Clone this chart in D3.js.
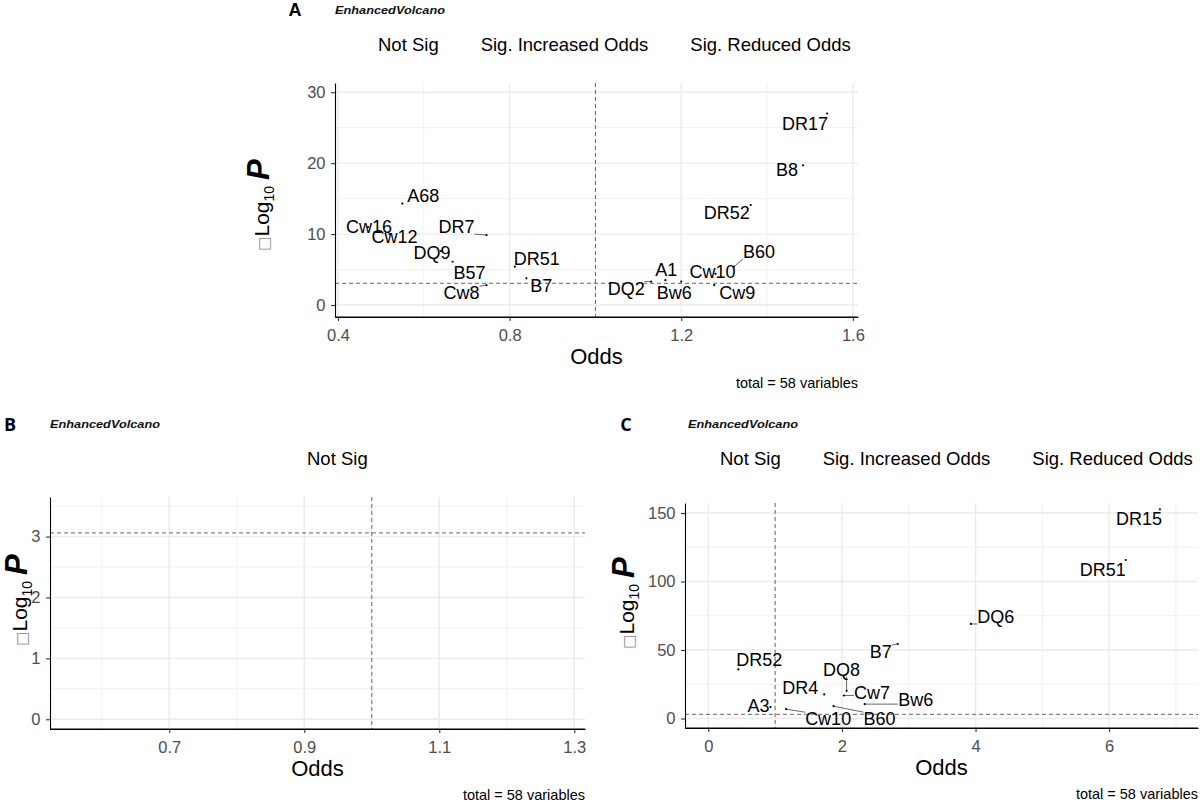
<!DOCTYPE html>
<html>
<head>
<meta charset="utf-8">
<script src="https://cdn.jsdelivr.net/npm/d3@7"></script>
<style>
  body { margin: 0; background: #fff; }
  text { font-family: "Liberation Sans", Arial, sans-serif; }
</style>
</head>
<body>
<script>
// ---- data ----
const legendLabels = ["Not Sig", "Sig. Increased Odds", "Sig. Reduced Odds"];
const pCutoff = 3.06;      // -log10(0.05/58)
const oddsCutoff = 1;
const totalText = "total = 58 variables";

// panel A
const namesA = ["A68", "Cw16", "Cw12", "DR7", "DQ9", "B57", "Cw8", "DR51", "B7",
                "DR17", "B8", "DR52", "B60", "Cw10", "A1", "DQ2", "Bw6", "Cw9"];
const oddsA  = [0.55, 0.47, 0.52, 0.746, 0.64, 0.667, 0.746, 0.812, 0.839,
                1.54, 1.484, 1.362, 1.323, 1.28, 1.163, 1.13, 1.2, 1.277];
const logpA  = [14.3, 11.0, 10.0, 9.86, 7.6, 6.1, 2.8, 5.4, 3.76,
                27.0, 19.7, 14.1, 5.4, 4.4, 3.5, 3.3, 3.3, 2.8];
const xTicksA = [0.4, 0.8, 1.2, 1.6];
const yTicksA = [0, 10, 20, 30];

// panel B (nothing plotted)
const namesB = [];
const oddsB = [];
const logpB = [];
const xTicksB = [0.7, 0.9, 1.1, 1.3];
const yTicksB = [0, 1, 2, 3];

// panel C
const namesC = ["DR52", "DR4", "DQ8", "Cw7", "Bw6", "A3", "Cw10", "B60", "B7",
                "DQ6", "DR51", "DR15"];
const oddsC  = [0.45, 1.735, 2.07, 2.03, 2.34, 0.93, 1.165, 1.875, 2.835,
                3.93, 6.25, 6.76];
const logpC  = [35.8, 17.6, 20.2, 16.8, 10.5, 8.4, 6.8, 9.0, 54.4,
                69.0, 115.7, 152.7];
const xTicksC = [0, 2, 4, 6];
const yTicksC = [0, 50, 100, 150];

// label nudges (px, label centre relative to point) - layout only
const nudgeA = [[21,-8],[1,0],[5,3],[-30,-8],[-9,2],[17,11],[-25,8],[22,-8],[15,8],
                [-22,10],[-16,5],[-24,8],[25,-15],[-3,-2],[1,-10],[-25,7],[-7,11],[23,8]];
const nudgeB = [];
const nudgeC = [[21,-9],[-24,-6],[-5,-21],[28,-2],[51,-4],[-12,-1],[42,10],[46,13],[-17,8],
                [25,-7],[-23,10],[-21,10]];

const W = 1200, H = 802;
const svg = d3.select("body").append("svg")
    .attr("width", W).attr("height", H)
    .attr("xmlns", "http://www.w3.org/2000/svg");

function drawPanel(p) {
    const g = svg.append("g");
    const x = d3.scaleLinear().domain(p.xDomain).range([p.left, p.right]);
    const y = d3.scaleLinear().domain(p.yDomain).range([p.bottom, p.top]);

    // minor grid
    const xMinor = p.xTicks.slice(0, -1).map((t, i) => (t + p.xTicks[i + 1]) / 2)
        .concat([p.xTicks[0] - (p.xTicks[1] - p.xTicks[0]) / 2,
                 p.xTicks[p.xTicks.length - 1] + (p.xTicks[1] - p.xTicks[0]) / 2])
        .filter(v => v > p.xDomain[0] && v < p.xDomain[1]);
    const yMinor = p.yTicks.slice(0, -1).map((t, i) => (t + p.yTicks[i + 1]) / 2)
        .concat([p.yTicks[p.yTicks.length - 1] + (p.yTicks[1] - p.yTicks[0]) / 2])
        .filter(v => v > p.yDomain[0] && v < p.yDomain[1]);
    g.selectAll(".gxm").data(xMinor).join("line")
        .attr("x1", d => x(d)).attr("x2", d => x(d))
        .attr("y1", p.top).attr("y2", p.bottom)
        .attr("stroke", "#ebebeb").attr("stroke-width", 0.7);
    g.selectAll(".gym").data(yMinor).join("line")
        .attr("y1", d => y(d)).attr("y2", d => y(d))
        .attr("x1", p.left).attr("x2", p.right)
        .attr("stroke", "#ebebeb").attr("stroke-width", 0.7);
    // major grid
    const xMaj = p.xTicks.filter(v => v >= p.xDomain[0] && v <= p.xDomain[1]);
    g.selectAll(".gx").data(xMaj).join("line")
        .attr("x1", d => x(d)).attr("x2", d => x(d))
        .attr("y1", p.top).attr("y2", p.bottom)
        .attr("stroke", "#ebebeb").attr("stroke-width", 1.4);
    g.selectAll(".gy").data(p.yTicks).join("line")
        .attr("y1", d => y(d)).attr("y2", d => y(d))
        .attr("x1", p.left).attr("x2", p.right)
        .attr("stroke", "#ebebeb").attr("stroke-width", 1.4);

    // cutoff lines
    g.append("line")
        .attr("x1", x(oddsCutoff)).attr("x2", x(oddsCutoff))
        .attr("y1", p.top).attr("y2", p.bottom)
        .attr("stroke", "#555").attr("stroke-width", 0.9).attr("stroke-dasharray", "4,3");
    g.append("line")
        .attr("x1", p.left).attr("x2", p.right)
        .attr("y1", y(pCutoff)).attr("y2", y(pCutoff))
        .attr("stroke", "#555").attr("stroke-width", 0.9).attr("stroke-dasharray", "4,3");

    // axes
    const xAxis = g.append("g").attr("transform", `translate(0,${p.bottom})`)
        .call(d3.axisBottom(x).tickValues(xMaj).tickSize(4).tickSizeOuter(0)
              .tickFormat(p.xFormat));
    const yAxis = g.append("g").attr("transform", `translate(${p.left},0)`)
        .call(d3.axisLeft(y).tickValues(p.yTicks).tickSize(4).tickSizeOuter(0)
              .tickFormat(d3.format("d")));
    [xAxis, yAxis].forEach(a => {
        a.select(".domain").attr("stroke", "#000").attr("stroke-width", 1.1);
        a.selectAll(".tick line").attr("stroke", "#333").attr("stroke-width", 1.1);
        a.selectAll(".tick text").attr("fill", "#4d4d4d")
            .style("font-family", "Liberation Sans, Arial, sans-serif")
            .style("font-size", "16.5px");
    });
    xAxis.selectAll(".tick text").attr("dy", "1.05em");
    yAxis.selectAll(".tick text").attr("dx", "-0.15em");
    // extend x axis line to left edge
    g.append("line").attr("x1", p.left).attr("x2", p.right)
        .attr("y1", p.bottom).attr("y2", p.bottom)
        .attr("stroke", "#000").attr("stroke-width", 1.1);

    // points
    const pts = p.names.map((n, i) => ({
        name: n, px: x(p.odds[i]), py: y(p.logp[i]), nd: p.nudge[i]
    }));
    const labels = g.selectAll(".lab").data(pts).join("text")
        .attr("x", d => d.px + d.nd[0]).attr("y", d => d.py + d.nd[1])
        .attr("text-anchor", "middle").attr("dominant-baseline", "central")
        .style("font-size", "18px").attr("fill", "#000")
        .text(d => d.name);
    labels.each(function (d) {
        const b = this.getBBox();
        const cx = Math.max(b.x, Math.min(d.px, b.x + b.width));
        const cy = Math.max(b.y + 3, Math.min(d.py, b.y + b.height - 3));
        const dist = Math.hypot(cx - d.px, cy - d.py);
        if (dist > 6) {
            g.append("line").attr("x1", d.px).attr("y1", d.py)
                .attr("x2", cx).attr("y2", cy)
                .attr("stroke", "#000").attr("stroke-width", 0.6);
        }
    });
    g.selectAll(".pt").data(pts).join("circle")
        .attr("cx", d => d.px).attr("cy", d => d.py).attr("r", 1.1)
        .attr("fill", "#000");

    // axis titles
    g.append("text").attr("x", (p.left + p.right) / 2).attr("y", p.bottom + 47)
        .attr("text-anchor", "middle").style("font-size", "22px").text("Odds");
    const yl = g.append("text")
        .attr("transform", `translate(${p.yLabX},${p.yLabY}) rotate(-90)`)
        .attr("text-anchor", "middle");
    yl.append("tspan").style("font-family", "DejaVu Sans").style("font-size", "15px")
        .attr("fill", "#888").text("\u25A1");
    yl.append("tspan").style("font-size", "21px").text("Log");
    yl.append("tspan").style("font-size", "14px").attr("dy", 5).text("10");
    yl.append("tspan").style("font-size", "21px").attr("dy", -5).text(" ");
    yl.append("tspan").style("font-size", "31px").style("font-weight", "bold")
        .style("font-style", "italic").text("P");

    // caption
    g.append("text").attr("x", p.right).attr("y", p.bottom + 71)
        .attr("text-anchor", "end").style("font-size", "14.5px").text(totalText);

    // tag + title
    g.append("text").attr("x", p.tagX).attr("y", p.tagY)
        .attr("text-anchor", "middle").attr("dominant-baseline", "central")
        .style("font-size", "18px").style("font-weight", "bold")
        .style("font-family", p.tagFont).text(p.tag);
    g.append("text").attr("x", p.titleX).attr("y", p.tagY + 4)
        .attr("textLength", 110).attr("lengthAdjust", "spacingAndGlyphs")
        .style("font-size", "10px").style("font-weight", "bold")
        .style("font-style", "italic").attr("fill", "#111")
        .text("EnhancedVolcano");

    // legend (keys are too small to see)
    let lx = p.legendX;
    p.legend.forEach(t => {
        const tx = g.append("text").attr("x", lx).attr("y", p.legendY)
            .style("font-size", "18.5px").text(t);
        lx += tx.node().getComputedTextLength() + 42;
    });
}

drawPanel({
    tag: "A", tagX: 295, tagY: 10, tagFont: "Liberation Sans", titleX: 335,
    left: 335, right: 858, top: 83, bottom: 317,
    xDomain: [0.393, 1.612], yDomain: [-1.69, 31.3],
    xTicks: xTicksA, yTicks: yTicksA, xFormat: d3.format(".1f"),
    names: namesA, odds: oddsA, logp: logpA, nudge: nudgeA,
    yLabX: 269, yLabY: 205,
    legend: legendLabels, legendX: 378, legendY: 51
});
drawPanel({
    tag: "B", tagX: 10, tagY: 424, tagFont: "Open Sans", titleX: 50,
    left: 50, right: 585, top: 497, bottom: 729,
    xDomain: [0.5233, 1.3159], yDomain: [-0.16, 3.65],
    xTicks: xTicksB, yTicks: yTicksB, xFormat: d3.format(".1f"),
    names: namesB, odds: oddsB, logp: logpB, nudge: nudgeB,
    yLabX: 27, yLabY: 600,
    legend: legendLabels.slice(0, 1), legendX: 307, legendY: 465
});
drawPanel({
    tag: "C", tagX: 626, tagY: 424, tagFont: "Open Sans", titleX: 688,
    left: 685, right: 1198, top: 503, bottom: 728,
    xDomain: [-0.349, 7.33], yDomain: [-6.93, 157.3],
    xTicks: xTicksC, yTicks: yTicksC, xFormat: d3.format("d"),
    names: namesC, odds: oddsC, logp: logpC, nudge: nudgeC,
    yLabX: 634, yLabY: 603,
    legend: legendLabels, legendX: 720, legendY: 465
});
</script>
</body>
</html>
